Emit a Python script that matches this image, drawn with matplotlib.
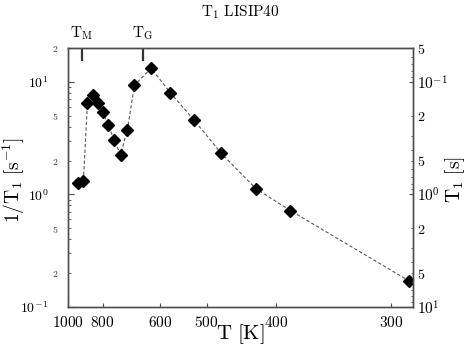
import math

import matplotlib
matplotlib.use("Agg")
import matplotlib.pyplot as plt
from matplotlib.ticker import FixedLocator, FuncFormatter

plt.rcParams["mathtext.fontset"] = "cm"
plt.rcParams["font.family"] = "serif"

# data: temperature [K] and relaxation rate 1/T1 [1/s]
temps = [930, 900, 877, 849, 823, 798, 775, 750, 725, 700, 676, 625, 575, 524, 475, 424, 384, 289]
rate = [1.26, 1.33, 6.5, 7.6, 6.5, 5.4, 4.1, 3.05, 2.26, 3.75, 9.35, 13.2, 8.0, 4.6, 2.32, 1.12, 0.72, 0.171]
t_ticks = [1000, 800, 600, 500, 400, 300]
marker_temps = [908, 648]
marker_labels = [r"$\mathrm{T_M}$", r"$\mathrm{T_G}$"]

inv = [1000 / t for t in temps]
spine_col = "0.3"

fig = plt.figure(figsize=(4.73, 3.5), dpi=100)
ax = fig.add_axes([68 / 473, 1 - 307 / 350, 345 / 473, 259 / 350])

ax.plot(inv, rate, ls=(0, (3, 2)), color="0.35", lw=0.8)
ax.plot(inv, rate, "D", color="k", ms=6.5, mec="k")

ax.set_xlim(1.0, 3.49)
ax.set_yscale("log")
ax.set_ylim(0.1, 20)

ax.set_xticks([1000 / t for t in t_ticks])
ax.set_xticklabels([r"$\mathrm{%d}$" % t for t in t_ticks], fontsize=11)
ax.tick_params(axis="x", direction="in", length=3, pad=6, colors=spine_col, labelcolor="k")


def major_fmt(v, pos):
    return r"$10^{%d}$" % int(round(math.log10(v)))


def minor_fmt(v, pos):
    m = int(round(v / 10 ** math.floor(math.log10(v) + 1e-9)))
    return r"$%d$" % m if m in (2, 5) else ""


left_major = [0.1, 1, 10]
left_minor = [m * 10 ** e for e in (-1, 0, 1) for m in range(2, 10) if m * 10 ** e <= 20.001]
ax.yaxis.set_major_locator(FixedLocator(left_major))
ax.yaxis.set_minor_locator(FixedLocator(left_minor))
ax.yaxis.set_major_formatter(FuncFormatter(major_fmt))
ax.yaxis.set_minor_formatter(FuncFormatter(minor_fmt))
ax.tick_params(axis="y", which="major", direction="in", length=4, pad=14, labelsize=10,
               colors=spine_col, labelcolor="k")
ax.tick_params(axis="y", which="minor", direction="in", length=2, pad=7, labelsize=7,
               colors=spine_col, labelcolor="0.2")
ax.tick_params(axis="both", top=False, right=False)

# right axis: T1 = 1 / rate
ax2 = ax.twinx()
ax2.set_yscale("log")
ax2.set_ylim(10, 0.05)
right_major = [0.1, 1, 10]
right_minor = [m * 10 ** e for e in (-2, -1, 0) for m in range(2, 10) if m * 10 ** e >= 0.0499]
ax2.yaxis.set_major_locator(FixedLocator(right_major))
ax2.yaxis.set_minor_locator(FixedLocator(right_minor))
ax2.yaxis.set_major_formatter(FuncFormatter(major_fmt))
ax2.yaxis.set_minor_formatter(FuncFormatter(minor_fmt))
ax2.tick_params(axis="y", which="major", direction="in", length=3, pad=3, labelsize=11,
                colors=spine_col, labelcolor="k")
ax2.tick_params(axis="y", which="minor", direction="in", length=1.5, pad=3, labelsize=10,
                colors=spine_col, labelcolor="k")

for a in (ax, ax2):
    for s in a.spines.values():
        s.set_color(spine_col)
        s.set_linewidth(1.0)

# T_M and T_G marks on top
top = ax.secondary_xaxis("top")
top.set_xticks([1000 / t for t in marker_temps])
top.set_xticklabels(marker_labels, fontsize=11)
top.tick_params(direction="in", length=9, width=1.6, pad=4, colors="0.2", labelcolor="k")
top.spines["top"].set_color(spine_col)

# axis labels placed by their centres
fig.text(240 / 473, 1 - 334 / 350, r"$\mathrm{T\ [K]}$", fontsize=15, ha="center", va="center")
fig.text(14 / 473, 1 - 180 / 350, r"$1/\mathrm{T}_1\ [\mathrm{s}^{-1}]$", fontsize=14,
         ha="center", va="center", rotation=90)
fig.text(455 / 473, 1 - 180 / 350, r"$\mathrm{T}_1\ [\mathrm{s}]$", fontsize=14,
         ha="center", va="center", rotation=90)

fig.text(240 / 473, 1 - 12 / 350, r"$\mathrm{T_1\ LISIP40}$", fontsize=11, ha="center", va="center")

fig.savefig("out.png", dpi=100)
